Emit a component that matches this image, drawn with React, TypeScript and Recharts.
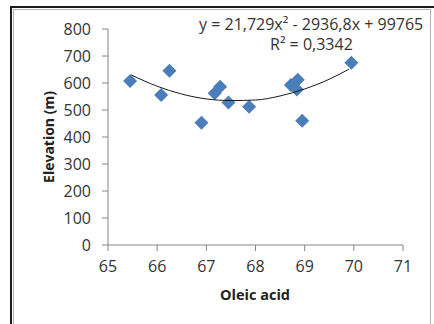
import { Scatter, ScatterChart, XAxis, YAxis } from "recharts";

// measured samples (oleic acid %, elevation m)
const OLEIC = [65.45, 66.08, 66.25, 66.9, 67.17, 67.28, 67.45, 67.87, 68.72, 68.86, 68.84, 68.95, 69.95];
const ELEVATION = [607, 556, 645, 453, 562, 586, 528, 512, 593, 612, 576, 460, 675];

// polynomial trendline
const TREND_X = [65.47, 66, 66.5, 67, 67.5, 68, 68.5, 69, 69.5, 69.9];
const TREND_Y = [630, 588, 559, 541, 535, 537, 552, 578, 614, 651];

const X_TICKS = [65, 66, 67, 68, 69, 70, 71];
const Y_TICKS = [0, 100, 200, 300, 400, 500, 600, 700, 800];

const EQUATION = "y = 21,729x\u00b2 - 2936,8x + 99765";
const R_SQUARED = "R\u00b2 = 0,3342";

const BLUE = "#4A7EBB";
const AXIS = "#868686";
const TEXT = "#333";

const points = OLEIC.map((x, i) => ({ x, y: ELEVATION[i] }));
const trend = TREND_X.map((x, i) => ({ x, y: TREND_Y[i] }));

function Diamond(props: any) {
  const { cx, cy } = props;
  const r = 7;
  return (
    <path
      d={`M${cx} ${cy - r}L${cx + r} ${cy}L${cx} ${cy + r}L${cx - r} ${cy}Z`}
      fill={BLUE}
    />
  );
}

const NoDot = () => <g />;

export default function App() {
  const tick = { fill: TEXT, fontSize: 16, fontFamily: '"Open Sans", sans-serif' };
  return (
    <div
      style={{
        position: "absolute",
        left: 0,
        top: 0,
        width: 434,
        height: 324,
        background: "#fff",
        overflow: "hidden",
        fontFamily: '"Open Sans", sans-serif',
        color: TEXT,
      }}
    >
      <div
        style={{
          position: "absolute",
          left: 10,
          top: 6,
          width: 460,
          height: 360,
          border: "2px solid #1c1c1c",
        }}
      />
      <div
        style={{
          position: "absolute",
          left: 13,
          top: 9,
          width: 416,
          height: 360,
          border: "1px solid #b4b4b4",
        }}
      />
      <div style={{ position: "absolute", left: 0, top: 0 }}>
        <ScatterChart
          width={434}
          height={324}
          margin={{ top: 29, right: 31, bottom: 0, left: 0 }}
        >
          <XAxis
            type="number"
            dataKey="x"
            domain={[65, 71]}
            ticks={X_TICKS}
            height={79}
            tickSize={6}
            tickMargin={10}
            stroke={AXIS}
            tick={tick}
            interval={0}
          />
          <YAxis
            type="number"
            dataKey="y"
            domain={[0, 800]}
            ticks={Y_TICKS}
            width={108}
            tickSize={6}
            tickMargin={11}
            stroke={AXIS}
            tick={tick}
            interval={0}
          />
          <Scatter
            data={points}
            shape={Diamond}
            fill={BLUE}
            isAnimationActive={false}
          />
          <Scatter
            data={trend}
            shape={NoDot}
            line={{ stroke: "#1a1a1a", strokeWidth: 1 }}
            lineJointType="monotoneX"
            isAnimationActive={false}
          />
        </ScatterChart>
      </div>
      <div
        style={{
          position: "absolute",
          left: 199,
          top: 13,
          fontSize: 16,
          whiteSpace: "nowrap",
          lineHeight: "22px",
        }}
      >
        {EQUATION}
      </div>
      <div
        style={{
          position: "absolute",
          left: 270,
          top: 33,
          fontSize: 16,
          whiteSpace: "nowrap",
          lineHeight: "22px",
        }}
      >
        {R_SQUARED}
      </div>
      <div
        style={{
          position: "absolute",
          left: 48,
          top: 137,
          transform: "translate(-50%, -50%) rotate(-90deg)",
          fontSize: 14,
          fontWeight: 700,
          whiteSpace: "nowrap",
          color: "#222",
        }}
      >
        Elevation (m)
      </div>
      <div
        style={{
          position: "absolute",
          left: 255,
          top: 294,
          transform: "translate(-50%, -50%)",
          fontSize: 14.5,
          fontWeight: 700,
          whiteSpace: "nowrap",
          color: "#222",
        }}
      >
        Oleic acid
      </div>
    </div>
  );
}
